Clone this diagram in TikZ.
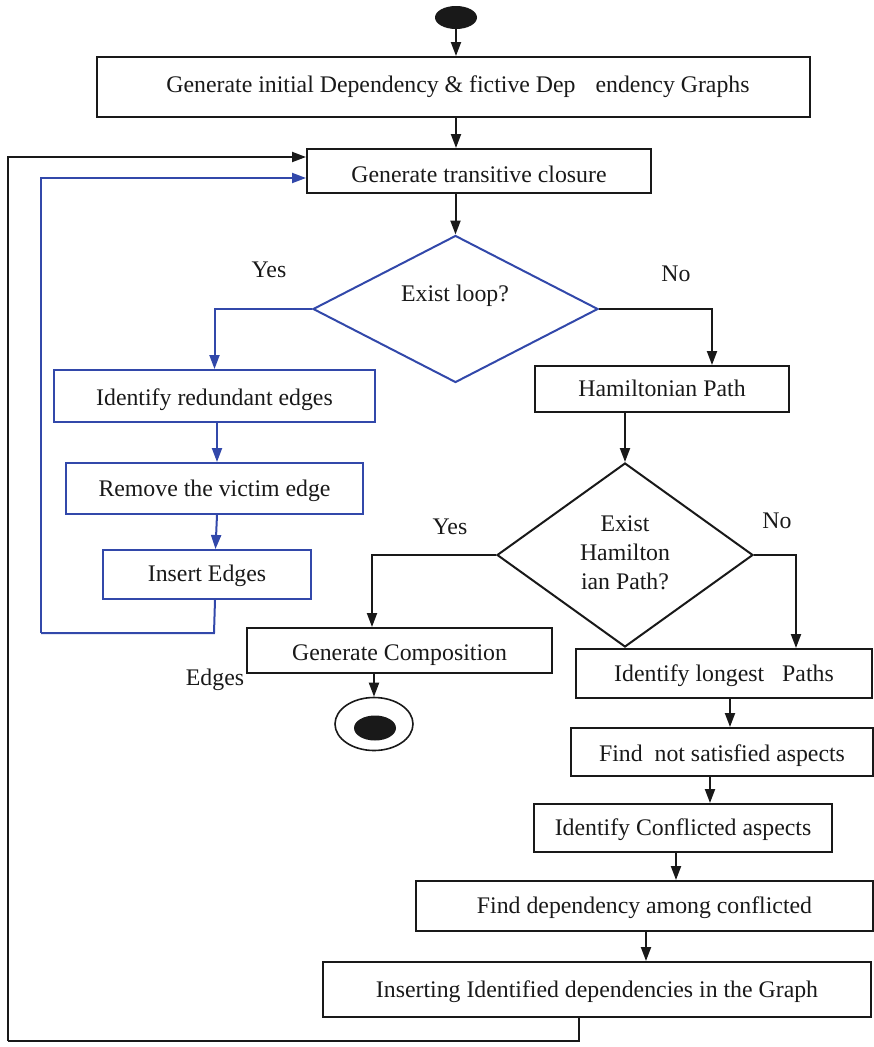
\documentclass[tikz,border=0pt]{standalone}
\usepackage{fontspec}
\setmainfont{Liberation Serif}
\usetikzlibrary{shapes.geometric,arrows.meta}
\definecolor{flowblue}{RGB}{50,72,170}
\definecolor{ink}{RGB}{25,25,25}
\begin{document}
\begin{tikzpicture}[x=1pt,y=-1pt,
  txt/.style={font=\fontsize{23.8}{29}\selectfont, text=ink, inner sep=0pt},
  box/.style={txt, draw=ink, line width=2pt, rectangle, text depth=0pt},
  tb/.style={text height=#1},
  bbox/.style={box, draw=flowblue},
  dec/.style={diamond, draw=ink, line width=2pt, inner sep=0pt, aspect=1},
  arr/.style={draw=ink, line width=2pt, -{Triangle[length=14pt,width=10pt]}},
  barr/.style={arr, draw=flowblue},
  line/.style={draw=ink, line width=2pt},
  bline/.style={line, draw=flowblue}]
\useasboundingbox (0,0) rectangle (874,1047);

% start and end markers
\node[ellipse, fill=ink, minimum width=42pt, minimum height=23pt, inner sep=0pt] (start) at (456,17.5) {};
\node[ellipse, draw=ink, line width=1.6pt, minimum width=78pt, minimum height=53pt, inner sep=0pt] (endo) at (374,724) {};
\node[ellipse, fill=ink, minimum width=42pt, minimum height=25pt, inner sep=0pt] (endi) at (375,728) {};

% process boxes (tb sets the baseline: half of it below the box centre)
\node[box, tb=11pt, minimum width=713pt, minimum height=60pt] (b1) at (453.5,87)
  {\hspace*{9pt}Generate initial Dependency \& fictive Dep\hspace{20pt}endency Graphs};
\node[box, tb=23pt, minimum width=344pt, minimum height=44pt] (b2) at (479,171) {Generate transitive closure};
\node[bbox, tb=18pt, minimum width=321pt, minimum height=52pt] (b3) at (214.5,396) {Identify redundant edges};
\node[bbox, tb=15pt, minimum width=297pt, minimum height=51pt] (b4) at (214.5,488.5) {Remove the victim edge};
\node[bbox, tb=14pt, minimum width=208pt, minimum height=49pt] (b5) at (207,574.5) {Insert Edges};
\node[box, tb=15pt, minimum width=254pt, minimum height=46pt] (b6) at (662,389) {Hamiltonian Path};
\node[box, tb=20pt, minimum width=305pt, minimum height=45pt] (b7) at (399.5,650.5) {Generate Composition};
\node[box, tb=15pt, minimum width=296pt, minimum height=49pt] (b8) at (724,673.5) {Identify longest\hspace{12pt} Paths};
\node[box, tb=18pt, minimum width=302pt, minimum height=48pt] (b9) at (722,752) {Find\hspace{6pt} not satisfied aspects};
\node[box, tb=14pt, minimum width=298pt, minimum height=48pt] (b10) at (683,828) {Identify Conflicted aspects};
\node[box, tb=15pt, minimum width=457pt, minimum height=50pt] (b11) at (644.5,906) {Find dependency among conflicted};
\node[box, tb=16pt, minimum width=548pt, minimum height=55pt] (b12) at (597,989.5) {Inserting Identified dependencies in the Graph};

% decisions
\node[dec, draw=flowblue, minimum width=285pt, minimum height=147pt] (d1) at (455.5,309) {};
\node[txt, anchor=base] (d1t) at (455,301.5) {Exist loop?};
\node[dec, minimum width=256pt, minimum height=184pt] (d2) at (625,555) {};
\node[txt, align=center] (d2t) at (625,553) {Exist\\Hamilton\\ian Path?};

% branch labels
\node[txt] (yes1) at (269,270) {Yes};
\node[txt] (no1) at (676,274) {No};
\node[txt] (yes2) at (450,527) {Yes};
\node[txt] (no2) at (777,521) {No};
\node[txt] (edg) at (215,680) {Edges};

% loop corners
\coordinate (bl) at (41,633);
\coordinate (kl) at (8,1041);

% main flow
\draw[arr] (start) -- (start |- b1.north);
\draw[arr] (start |- b1.south) -- (start |- b2.north);
\draw[arr] (d1.north |- b2.south) -- (d1.north);
\draw[barr] (d1.west) -| (b3.north);
\draw[barr] ([xshift=2.5pt]b3.south) -- ([xshift=2.5pt]b3.south |- b4.north);
\draw[barr] ([xshift=2.5pt]b4.south) -- ([xshift=8.5pt]b5.north);
\draw[bline] ([xshift=8pt]b5.south) -- ([xshift=7pt]b5.south |- bl) -- (bl);
\draw[barr] (bl) |- ([yshift=-7pt]b2.west);
\draw[arr] (d1.east) -| ([xshift=50pt]b6.north);
\draw[arr] (d2.north |- b6.south) -- (d2.north);
\draw[arr] (d2.west) -| ([xshift=-27.5pt]b7.north);
\draw[arr] (d2.east) -| ([xshift=72pt]b8.north);
\draw[arr] (endo.north |- b7.south) -- (endo.north);
\draw[arr] ([xshift=6pt]b8.south) -- ([xshift=6pt]b8.south |- b9.north);
\draw[arr] ([xshift=-12pt]b9.south) -- ([xshift=-12pt]b9.south |- b10.north);
\draw[arr] ([xshift=-7pt]b10.south) -- ([xshift=-7pt]b10.south |- b11.north);
\draw[arr] ([xshift=1.5pt]b11.south) -- ([xshift=1.5pt]b11.south |- b12.north);
\draw[line] ([xshift=-18pt]b12.south) |- (kl);
\draw[arr] (kl) |- ([yshift=14pt]b2.west);
\end{tikzpicture}
\end{document}
